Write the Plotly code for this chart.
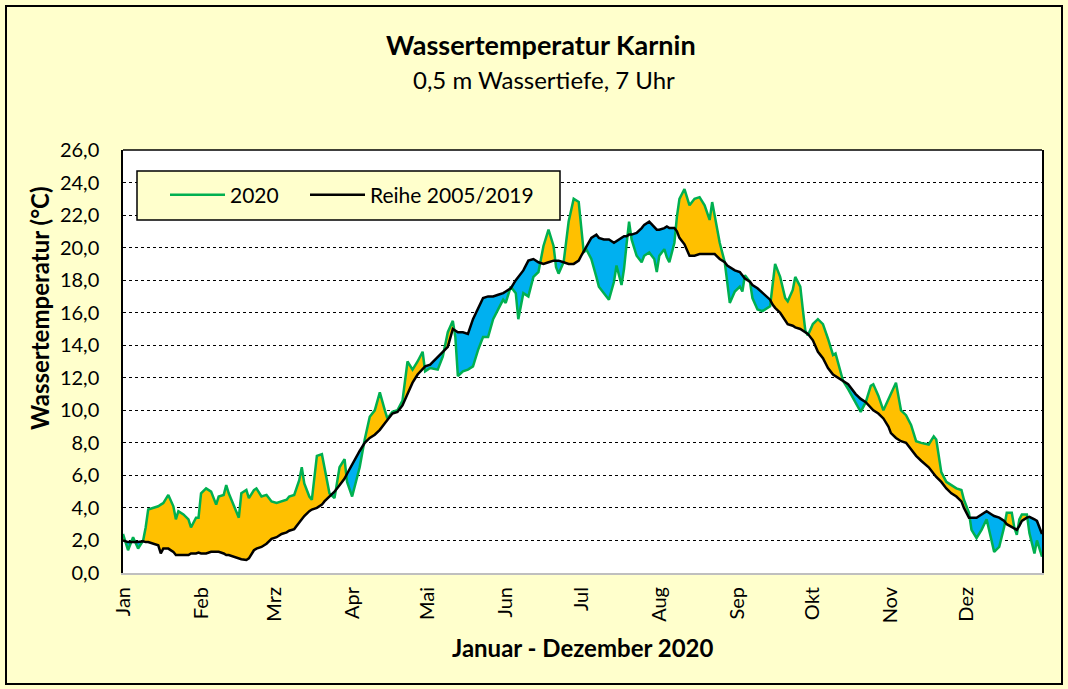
import plotly.graph_objects as go

# Day of year (0 = 1 Jan 2020)
days = [0, 2, 4, 6, 8, 9, 10, 12, 14, 15, 16, 18, 20, 21, 22, 24, 26, 27, 29, 30,
        31, 33, 35, 37, 38, 40, 41, 42, 44, 46, 47, 49, 50, 52, 53, 55, 57, 59, 61, 63,
        65, 66, 68, 70, 71, 72, 74, 75, 77, 79, 80, 82, 84, 86, 88, 89, 91, 92, 94, 96,
        98, 100, 102, 104, 105, 107, 109, 111, 113, 115, 117, 119, 120, 122, 125, 127, 129, 131, 132, 133,
        135, 137, 139, 141, 143, 145, 147, 149, 151, 152, 154, 156, 157, 159, 161, 163, 165, 167, 169, 171,
        172, 173, 175, 177, 179, 181, 182, 183, 184, 186, 188, 189, 191, 193, 195, 196, 198, 199, 200, 201,
        202, 204, 206, 207, 209, 211, 212, 213, 215, 216, 217, 219, 220, 221, 223, 225, 227, 229, 231, 233,
        234, 235, 237, 239, 240, 241, 243, 245, 246, 247, 249, 250, 252, 254, 257, 258, 259, 261, 263, 264,
        266, 267, 269, 270, 271, 272, 274, 276, 278, 280, 282, 283, 285, 286, 288, 291, 293, 295, 297, 298,
        300, 302, 304, 305, 307, 309, 311, 313, 315, 317, 320, 322, 323, 325, 327, 329, 331, 333, 334, 336,
        337, 339, 341, 343, 345, 346, 348, 350, 351, 353, 354, 355, 356, 357, 359, 360, 362, 363, 365]

temp_2020 = [2.4, 1.4, 2.2, 1.5, 2.0, 2.8, 3.9, 4.0, 4.1, 4.2, 4.3, 4.8, 4.1, 3.3, 3.8, 3.6, 3.3, 2.8, 3.4, 3.4,
             4.9, 5.2, 5.0, 4.2, 4.7, 4.8, 5.4, 4.9, 4.1, 3.4, 4.9, 5.1, 4.6, 5.1, 5.2, 4.7, 4.8, 4.4, 4.3, 4.4,
             4.5, 4.7, 4.8, 5.7, 6.5, 5.5, 4.7, 4.5, 7.2, 7.3, 6.5, 4.9, 4.6, 6.5, 7.0, 5.6, 4.7, 5.3, 6.5, 8.2,
             9.6, 10.0, 11.1, 10.0, 9.5, 9.9, 10.0, 10.6, 13.0, 12.5, 13.0, 13.6, 12.4, 12.6, 12.5, 13.3, 14.8, 15.5, 14.5, 12.1,
             12.4, 12.5, 12.7, 13.7, 14.5, 14.5, 15.6, 16.2, 16.8, 16.6, 17.6, 17.2, 15.6, 17.2, 17.0, 18.2, 18.5, 20.1, 21.1, 20.1,
             18.8, 18.4, 19.1, 21.6, 23.0, 22.8, 21.1, 19.7, 19.9, 19.3, 18.2, 17.6, 17.2, 16.8, 17.9, 18.9, 17.7, 18.7, 20.2, 21.6,
             20.5, 19.5, 19.1, 19.5, 19.7, 19.3, 18.5, 19.5, 19.9, 19.4, 19.1, 20.3, 21.9, 23.0, 23.6, 22.6, 23.0, 23.1, 22.6, 21.7,
             22.8, 21.9, 20.3, 19.1, 17.7, 16.6, 17.3, 17.6, 17.3, 18.3, 17.9, 16.9, 16.2, 16.1, 16.4, 17.6, 19.0, 18.2, 16.9, 16.7,
             17.4, 18.2, 17.6, 16.2, 14.9, 14.6, 15.3, 15.6, 15.3, 14.4, 13.4, 13.5, 12.3, 11.8, 11.3, 10.5, 9.9, 10.5, 11.5, 11.6,
             10.9, 10.0, 10.7, 11.1, 11.7, 10.0, 9.7, 9.1, 8.1, 8.0, 7.9, 8.4, 8.2, 6.2, 5.6, 5.4, 5.2, 5.1, 4.5, 3.7,
             2.65, 2.15, 2.65, 3.3, 1.85, 1.3, 1.6, 2.85, 3.7, 3.7, 2.8, 2.35, 3.3, 3.6, 3.6, 2.45, 1.2, 2.0, 1.0]

temp_mean = [2.0, 1.9, 1.9, 1.9, 1.95, 1.9, 1.9, 1.8, 1.7, 1.2, 1.5, 1.5, 1.3, 1.1, 1.1, 1.1, 1.1, 1.2, 1.2, 1.25,
             1.2, 1.2, 1.3, 1.3, 1.3, 1.2, 1.1, 1.1, 1.0, 0.9, 0.85, 0.8, 0.9, 1.4, 1.5, 1.6, 1.8, 2.1, 2.2, 2.4,
             2.5, 2.6, 2.7, 3.1, 3.3, 3.5, 3.8, 3.9, 4.0, 4.2, 4.4, 4.7, 5.0, 5.4, 5.8, 6.1, 6.7, 7.0, 7.5, 8.0,
             8.3, 8.5, 8.8, 9.2, 9.4, 9.8, 9.9, 10.3, 11.0, 11.7, 12.2, 12.5, 12.7, 12.8, 13.3, 13.6, 13.9, 15.0, 14.9, 14.8,
             14.8, 14.7, 15.6, 16.3, 16.9, 17.0, 17.0, 17.1, 17.2, 17.3, 17.5, 18.0, 18.2, 18.6, 19.2, 19.3, 19.1, 19.0, 19.1, 19.2,
             19.2, 19.2, 19.1, 19.0, 19.0, 19.2, 19.5, 19.8, 20.1, 20.6, 20.8, 20.6, 20.5, 20.5, 20.3, 20.4, 20.6, 20.7, 20.7, 20.8,
             20.8, 20.9, 21.2, 21.4, 21.6, 21.3, 21.1, 21.1, 21.2, 21.3, 21.2, 21.2, 21.0, 20.6, 20.2, 19.5, 19.5, 19.6, 19.6, 19.6,
             19.6, 19.6, 19.3, 19.1, 18.9, 18.8, 18.6, 18.5, 18.3, 18.1, 17.9, 17.7, 17.5, 17.2, 16.8, 16.5, 16.3, 16.0, 15.5, 15.3,
             15.2, 15.1, 15.0, 14.9, 14.8, 14.7, 14.3, 13.6, 13.2, 12.6, 12.2, 12.1, 11.9, 11.8, 11.6, 11.0, 10.7, 10.5, 10.2, 10.0,
             9.8, 9.5, 9.0, 8.6, 8.3, 8.1, 8.0, 7.6, 7.2, 6.9, 6.5, 6.1, 5.9, 5.6, 5.2, 4.9, 4.7, 4.4, 4.0, 3.4,
             3.4, 3.4, 3.6, 3.8, 3.6, 3.5, 3.4, 3.2, 3.0, 2.8, 2.7, 2.65, 2.9, 3.2, 3.4, 3.45, 3.3, 3.2, 2.4]

month_days = [0, 31, 60, 91, 121, 152, 182, 213, 244, 274, 305, 335]
month_labels = ["Jan", "Feb", "Mrz", "Apr", "Mai", "Jun", "Jul", "Aug", "Sep", "Okt", "Nov", "Dez"]

# fill boundaries (with crossing points between the two series)
fx, fg, fb = [], [], []
for i in range(len(days)):
    fx.append(days[i]); fg.append(temp_2020[i]); fb.append(temp_mean[i])
    if i < len(days) - 1:
        d0 = temp_2020[i] - temp_mean[i]
        d1 = temp_2020[i + 1] - temp_mean[i + 1]
        if d0 * d1 < 0:
            t = d0 / (d0 - d1)
            xc = days[i] + t * (days[i + 1] - days[i])
            yc = temp_mean[i] + t * (temp_mean[i + 1] - temp_mean[i])
            fx.append(xc); fg.append(yc); fb.append(yc)
upper = [max(a, b) for a, b in zip(fg, fb)]
lower = [min(a, b) for a, b in zip(fg, fb)]

GREEN = "#00B050"
ORANGE = "#FFC000"
BLUE = "#00B0F0"
BG = "#FFFFCC"
FONT = "Lato"

fig = go.Figure()
fig.add_trace(go.Scatter(x=fx, y=fb, mode="lines", line=dict(width=0), showlegend=False, hoverinfo="skip"))
fig.add_trace(go.Scatter(x=fx, y=upper, mode="lines", line=dict(width=0), fill="tonexty",
                         fillcolor=ORANGE, showlegend=False, hoverinfo="skip"))
fig.add_trace(go.Scatter(x=fx, y=fb, mode="lines", line=dict(width=0), showlegend=False, hoverinfo="skip"))
fig.add_trace(go.Scatter(x=fx, y=lower, mode="lines", line=dict(width=0), fill="tonexty",
                         fillcolor=BLUE, showlegend=False, hoverinfo="skip"))
fig.add_trace(go.Scatter(x=days, y=temp_2020, mode="lines", name="2020", legend="legend",
                         line=dict(color=GREEN, width=2.5)))
fig.add_trace(go.Scatter(x=days, y=temp_mean, mode="lines", name="Reihe 2005/2019", legend="legend2",
                         line=dict(color="black", width=2.5)))

W, H = 1068, 689
L, R, T, B = 123, 1042, 150, 573
pw, ph = R - L, B - T
def px(x):
    return (x - L) / pw
def py(y):
    return (B - y) / ph

shapes = [
    # outer frame
    dict(type="rect", xref="paper", yref="paper", x0=px(6), x1=px(1062), y0=py(684), y1=py(6),
         line=dict(color="black", width=2), layer="below"),
    # top border of plot area
    dict(type="line", xref="paper", yref="paper", x0=0, x1=1, y0=1, y1=1,
         line=dict(color="black", width=1.5)),
    # legend box
    dict(type="rect", xref="paper", yref="paper", x0=px(137), x1=px(560), y0=py(220), y1=py(171),
         fillcolor=BG, line=dict(color="black", width=1.5), layer="above"),
]

annotations = [
    dict(text="<b>Wassertemperatur Karnin</b>", xref="paper", yref="paper", x=px(541), y=py(45),
         showarrow=False, font=dict(family=FONT, size=27, color="black"), xanchor="center", yanchor="middle"),
    dict(text="0,5 m Wassertiefe, 7 Uhr", xref="paper", yref="paper", x=px(544), y=py(79),
         showarrow=False, font=dict(family=FONT, size=24, color="black"), xanchor="center", yanchor="middle"),
    dict(text="<b>Wassertemperatur (°C)</b>", xref="paper", yref="paper", x=px(39), y=py(308),
         showarrow=False, textangle=-90, font=dict(family=FONT, size=24, color="black"),
         xanchor="center", yanchor="middle"),
    dict(text="<b>Januar - Dezember 2020</b>", xref="paper", yref="paper", x=px(582), y=py(647),
         showarrow=False, font=dict(family=FONT, size=24, color="black"), xanchor="center", yanchor="middle"),
]

legend_style = dict(orientation="h", xanchor="left", yanchor="middle", y=py(195),
                    bgcolor="rgba(0,0,0,0)", borderwidth=0,
                    font=dict(family=FONT, size=21, color="black"), itemwidth=55)

fig.update_layout(
    width=W, height=H,
    margin=dict(l=L, r=W - R, t=T, b=H - B),
    paper_bgcolor=BG, plot_bgcolor="white",
    separators=", ",
    font=dict(family=FONT, color="black"),
    shapes=shapes, annotations=annotations,
    showlegend=True,
    legend=dict(x=px(165), **legend_style),
    legend2=dict(x=px(305), **legend_style),
)
fig.update_xaxes(range=[0, 365], tickmode="array", tickvals=month_days, ticktext=month_labels,
                 tickangle=-90, tickfont=dict(family=FONT, size=20, color="black"),
                 showgrid=False, zeroline=False, showline=True, linecolor="#BFBFBF", linewidth=2,
                 ticks="", ticklabelstandoff=4, fixedrange=True)
fig.update_yaxes(range=[0, 26], tickmode="array", tickvals=list(range(0, 27, 2)),
                 tickformat=".1f", tickfont=dict(family=FONT, size=20, color="black"),
                 showgrid=True, gridcolor="black", griddash="dot", gridwidth=1.2,
                 zeroline=False, showline=True, linecolor="black", linewidth=1.5, mirror=True,
                 ticks="", ticklabelstandoff=18, fixedrange=True)

fig.write_html(
    "out.html",
    config={"displayModeBar": False},
    post_script="document.body.style.margin='0';document.body.style.background='#FFFFCC';",
)
